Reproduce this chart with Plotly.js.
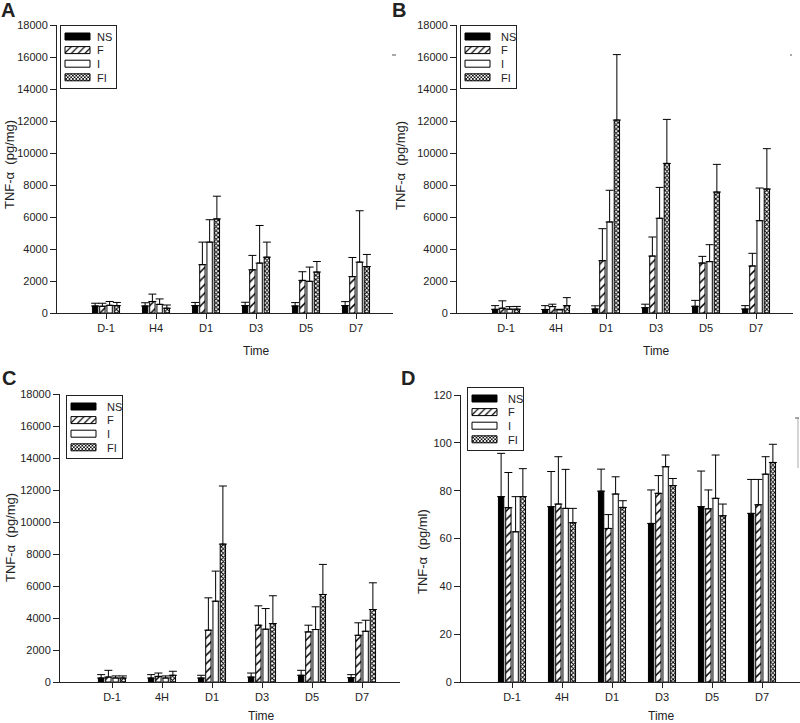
<!DOCTYPE html>
<html>
<head>
<meta charset="utf-8">
<script src="https://cdn.plot.ly/plotly-3.0.1.min.js"></script>
<style>html,body{margin:0;padding:0;background:#fff;}#chart{width:800px;height:723px;}</style>
</head>
<body>
<div id="chart"></div>
<script>
// ---------- data ----------
const seriesNames = ['NS', 'F', 'I', 'FI'];
const timesA = ['D-1', 'H4', 'D1', 'D3', 'D5', 'D7'];
const timesBCD = ['D-1', '4H', 'D1', 'D3', 'D5', 'D7'];

// Panel A  TNF-α (pg/mg)
const nsA = [440, 440, 460, 460, 440, 460];
const nsA_err = [170, 200, 200, 210, 210, 250];
const fA = [420, 720, 3020, 2700, 2040, 2270];
const fA_err = [190, 460, 1410, 900, 540, 1200];
const iA = [480, 540, 4430, 3120, 1980, 3180];
const iA_err = [240, 340, 1400, 2350, 890, 3210];
const fiA = [460, 300, 5880, 3490, 2560, 2900];
const fiA_err = [200, 200, 1420, 940, 660, 760];

// Panel B  TNF-α (pg/mg)
const nsB = [230, 220, 250, 330, 420, 250];
const nsB_err = [230, 240, 200, 220, 370, 210];
const fB = [300, 400, 3270, 3560, 3125, 2940];
const fB_err = [460, 150, 2000, 1190, 415, 790];
const iB = [240, 200, 5690, 5920, 3210, 5770];
const iB_err = [160, 30, 1980, 1930, 1060, 2040];
const fiB = [240, 460, 12060, 9350, 7560, 7750];
const fiB_err = [170, 500, 4090, 2750, 1730, 2520];

// Panel C  TNF-α (pg/mg)
const nsC = [250, 250, 250, 310, 420, 270];
const nsC_err = [210, 210, 170, 250, 310, 190];
const fC = [310, 350, 3240, 3550, 3130, 2920];
const fC_err = [420, 210, 2020, 1210, 420, 780];
const iC = [250, 250, 5050, 3300, 3280, 3170];
const iC_err = [130, 130, 1880, 1290, 1420, 690];
const fiC = [250, 420, 8620, 3650, 5470, 4530];
const fiC_err = [130, 250, 3630, 1740, 1880, 1670];

// Panel D  TNF-α (pg/ml)
const nsD = [77.5, 73.3, 79.8, 66.3, 73.3, 70.5];
const nsD_err = [18.1, 14.7, 9.2, 14.0, 14.9, 14.2];
const fD = [72.9, 74.4, 64.2, 78.9, 72.4, 74.1];
const fD_err = [14.7, 19.8, 5.8, 7.4, 7.9, 10.6];
const iD = [62.8, 72.6, 78.6, 90.0, 76.8, 86.9];
const iD_err = [14.7, 16.3, 7.2, 4.9, 18.1, 7.3];
const fiD = [77.5, 66.6, 73.0, 82.1, 69.5, 91.8];
const fiD_err = [11.7, 6.0, 2.8, 3.0, 4.9, 7.6];

const yTicksMg = [0, 2000, 4000, 6000, 8000, 10000, 12000, 14000, 16000, 18000];
const yTicksMl = [0, 20, 40, 60, 80, 100, 120];

// ---------- styles ----------
const FONT = 'Arial, "Liberation Sans", sans-serif';
const INK = '#222';
const styles = {
  NS: {color: '#000', pattern: {shape: ''}},
  F:  {color: '#fff', pattern: {shape: '/', fgcolor: '#000', bgcolor: '#fff', size: 6, solidity: 0.25}},
  I:  {color: '#fff', pattern: {shape: ''}},
  FI: {color: '#fff', pattern: {shape: 'x', fgcolor: '#000', bgcolor: '#fff', size: 3, solidity: 0.55}}
};

const panels = [
  {cats: timesA,   vals: [nsA, fA, iA, fiA], errs: [nsA_err, fA_err, iA_err, fiA_err], xa: 'x',  ya: 'y',  leg: 'legend'},
  {cats: timesBCD, vals: [nsB, fB, iB, fiB], errs: [nsB_err, fB_err, iB_err, fiB_err], xa: 'x2', ya: 'y2', leg: 'legend2'},
  {cats: timesBCD, vals: [nsC, fC, iC, fiC], errs: [nsC_err, fC_err, iC_err, fiC_err], xa: 'x3', ya: 'y3', leg: 'legend3'},
  {cats: timesBCD, vals: [nsD, fD, iD, fiD], errs: [nsD_err, fD_err, iD_err, fiD_err], xa: 'x4', ya: 'y4', leg: 'legend4'}
];

const traces = [];
panels.forEach(p => {
  seriesNames.forEach((name, k) => {
    const st = styles[name];
    traces.push({
      type: 'bar',
      name: name,
      x: p.cats,
      y: p.vals[k],
      xaxis: p.xa,
      yaxis: p.ya,
      legend: p.leg,
      marker: {color: st.color, pattern: st.pattern, line: {color: '#000', width: 1}},
      error_y: {type: 'data', symmetric: false, array: p.errs[k], arrayminus: p.errs[k].map(() => 0),
                color: '#000', thickness: 1, width: 4},
      hoverinfo: 'skip'
    });
  });
});

function xAxis(domain, range, anchor) {
  return {domain: domain, range: range, anchor: anchor, type: 'category',
    showline: true, linecolor: INK, linewidth: 1, ticks: 'outside', ticklen: 5, tickcolor: INK, tickwidth: 1,
    showgrid: false, zeroline: false, tickfont: {family: FONT, size: 11, color: INK}, fixedrange: true};
}
function yAxis(domain, range, tickvals, anchor) {
  return {domain: domain, range: range, anchor: anchor, tickmode: 'array', tickvals: tickvals, tickformat: 'd',
    showline: true, linecolor: INK, linewidth: 1, ticks: 'outside', ticklen: 6, tickcolor: INK, tickwidth: 1,
    showgrid: false, zeroline: false, tickfont: {family: FONT, size: 11, color: INK}, fixedrange: true};
}
const W = 800, H = 723;
const px = v => v / W, py = v => 1 - v / H;

function legendAt(left, top) {
  return {x: px(left), y: py(top), xanchor: 'left', yanchor: 'top', bgcolor: '#fff',
    bordercolor: INK, borderwidth: 1, font: {family: FONT, size: 11, color: INK}, tracegroupgap: 0,
    itemclick: false, itemdoubleclick: false};
}

function ann(text, x, y, size, opts) {
  return Object.assign({text: text, x: px(x), y: py(y), xref: 'paper', yref: 'paper', showarrow: false,
    xanchor: 'center', yanchor: 'middle', font: {family: FONT, size: size, color: INK}}, opts || {});
}

const layout = {
  width: W, height: H, margin: {l: 0, r: 0, t: 0, b: 0},
  paper_bgcolor: '#fff', plot_bgcolor: '#fff',
  barmode: 'group', bargap: 0.42, bargroupgap: 0.26,
  showlegend: true,
  font: {family: FONT, color: INK},
  xaxis:  xAxis([px(57), px(393)], [-0.98, 5.74], 'y'),
  yaxis:  yAxis([py(313), py(25)], [0, 18000], yTicksMg, 'x'),
  xaxis2: xAxis([px(457), px(793)], [-0.98, 5.74], 'y2'),
  yaxis2: yAxis([py(313), py(25)], [0, 18000], yTicksMg, 'x2'),
  xaxis3: xAxis([px(60), px(400)], [-1.04, 5.76], 'y3'),
  yaxis3: yAxis([py(682), py(394)], [0, 18000], yTicksMg, 'x3'),
  xaxis4: xAxis([px(461), px(800)], [-1.02, 5.76], 'y4'),
  yaxis4: yAxis([py(682), py(395)], [0, 120], yTicksMl, 'x4'),
  legend:  legendAt(60, 25),
  legend2: legendAt(460, 25),
  legend3: legendAt(66, 395),
  legend4: legendAt(467, 387),
  annotations: [
    ann('<b>A</b>', 8, 10, 20),
    ann('<b>B</b>', 399, 10, 20),
    ann('<b>C</b>', 9, 378, 20),
    ann('<b>D</b>', 408, 378, 20),
    ann('TNF-α  (pg/mg)', 10, 165, 13, {textangle: -90}),
    ann('TNF-α  (pg/mg)', 401, 166, 13, {textangle: -90}),
    ann('TNF-α  (pg/mg)', 10, 538, 13, {textangle: -90}),
    ann('TNF-α  (pg/ml)', 422, 552, 13, {textangle: -90}),
    ann('Time', 256, 351, 12),
    ann('Time', 656, 351, 12),
    ann('Time', 261, 716, 12),
    ann('Time', 661, 716, 12)
  ],
  shapes: [
    {type: 'line', xref: 'paper', yref: 'paper', x0: px(392), x1: px(396), y0: py(55), y1: py(55), line: {color: '#555', width: 1}},
    {type: 'line', xref: 'paper', yref: 'paper', x0: px(790), x1: px(792), y0: py(55), y1: py(55), line: {color: '#555', width: 1}},
    {type: 'line', xref: 'paper', yref: 'paper', x0: px(798), x1: px(798), y0: py(418), y1: py(468), line: {color: '#aaa', width: 1}},
    {type: 'line', xref: 'paper', yref: 'paper', x0: px(795), x1: px(799), y0: py(418), y1: py(418), line: {color: '#555', width: 1}}
  ]
};

function tweakLegends(gd) {
  ['legend', 'legend2', 'legend3', 'legend4'].forEach(id => {
    const g = gd.querySelector('g.' + id);
    if (!g) return;
    const bg = g.querySelector('rect.bg');
    if (bg) { bg.setAttribute('width', 56); bg.setAttribute('height', 63); }
    g.querySelectorAll('g.traces').forEach((t, i) => {
      t.setAttribute('transform', 'translate(1,' + (11.5 + i * 13.6) + ')');
      t.querySelectorAll('.legendpoints path').forEach(p => {
        p.setAttribute('d', 'M4,3.5H29V-3.5H4Z');
        p.setAttribute('transform', 'translate(0,0)');
      });
      const tx = t.querySelector('text.legendtext');
      if (tx) tx.setAttribute('x', 36);
      const tog = t.querySelector('rect.legendtoggle');
      if (tog) { tog.setAttribute('height', 13); tog.setAttribute('y', -6.5); tog.setAttribute('width', 54); }
    });
  });
}

Plotly.newPlot('chart', traces, layout, {displayModeBar: false, staticPlot: true, responsive: false})
  .then(gd => tweakLegends(gd));
</script>
</body>
</html>
